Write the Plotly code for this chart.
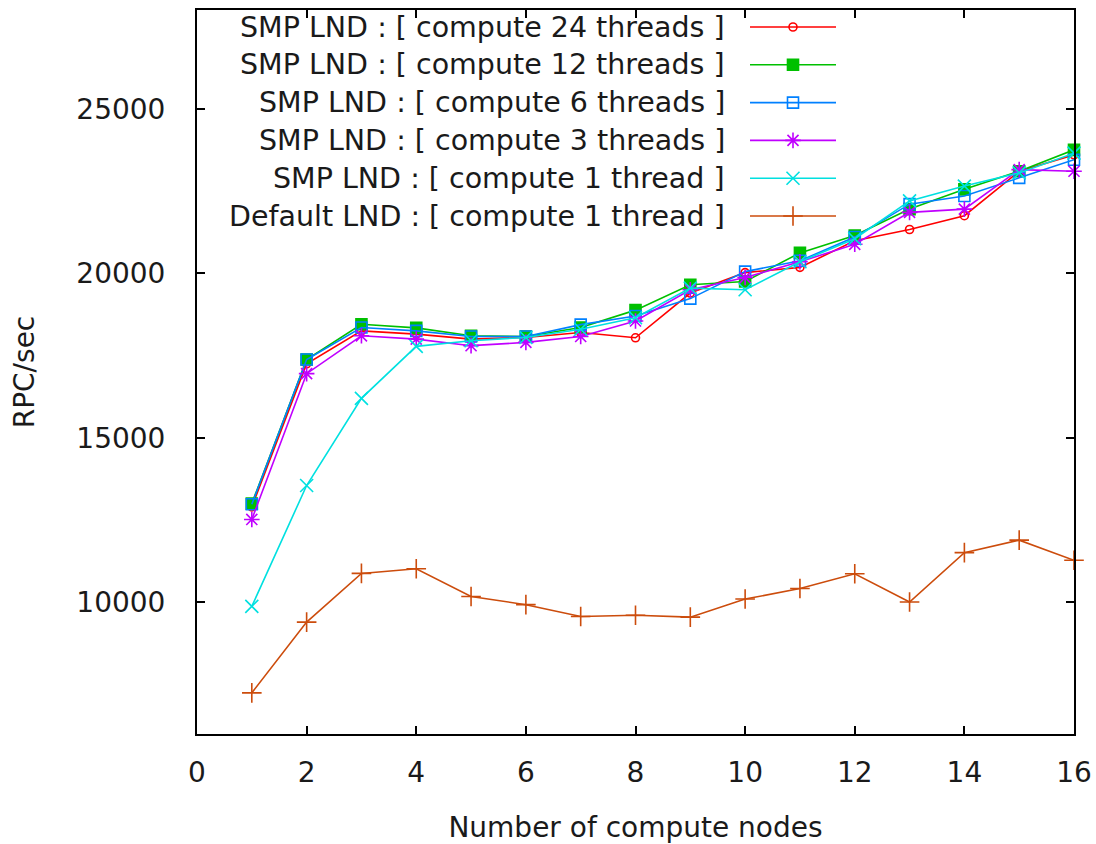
import plotly.graph_objects as go

# Throughput (RPC/sec) versus number of compute nodes
nodes = list(range(1, 17))

smp_24 = [12900, 17250, 18250, 18150, 18000, 18050, 18200, 18040,
          19400, 20020, 20180, 20990, 21330, 21750, 23100, 23600]
smp_12 = [13000, 17380, 18450, 18340, 18100, 18080, 18350, 18880,
          19650, 19750, 20620, 21150, 21950, 22550, 23100, 23750]
smp_6 = [12980, 17380, 18350, 18250, 18080, 18080, 18440, 18700,
         19230, 20050, 20380, 21100, 22100, 22350, 22900, 23450]
smp_3 = [12520, 16950, 18100, 18000, 17800, 17900, 18080, 18550,
         19500, 19870, 20350, 20880, 21850, 21950, 23150, 23100]
smp_1 = [9880, 13550, 16200, 17780, 17950, 18050, 18300, 18650,
         19550, 19500, 20350, 21050, 22200, 22650, 23050, 23650]
default_1 = [7250, 9400, 10880, 11020, 10180, 9930, 9570, 9610,
             9550, 10100, 10420, 10870, 10010, 11510, 11890, 11280]

labels = [
    "SMP LND : [ compute 24 threads ]",
    "SMP LND : [ compute 12 threads ]",
    "SMP LND : [ compute 6 threads ]",
    "SMP LND : [ compute 3 threads ]",
    "SMP LND : [ compute 1 thread ]",
    "Default LND : [ compute 1 thread ]",
]
series = [smp_24, smp_12, smp_6, smp_3, smp_1, default_1]

x_ticks = list(range(0, 17, 2))
y_ticks = [10000, 15000, 20000, 25000]
y_tick_text = [str(v) for v in y_ticks]

# gnuplot-like styles
colors = ["#ff0000", "#00c000", "#0080ff", "#c000ff", "#00e0e0", "#cc4c0c"]
symbols = ["circle-open", "square", "square-open", "asterisk-open",
           "x-thin-open", "cross-thin-open"]
sizes = [8, 11, 11, 13, 13, 14]

FONT = "DejaVu Sans"
TEXT_COLOR = "#1a1a1a"
W, H = 1096, 844
L, R, T, B = 197, 22, 10, 110
plot_w = W - L - R
plot_h = H - T - B

fig = go.Figure()

for name, ys, c, s, sz in zip(labels, series, colors, symbols, sizes):
    fig.add_trace(go.Scatter(
        x=nodes, y=ys, mode="lines+markers", name=name,
        line=dict(color=c, width=1.6),
        marker=dict(symbol=s, size=sz, color=c,
                    line=dict(color=c, width=1.6)),
        showlegend=False, cliponaxis=False,
    ))

# Key: right-aligned text followed by a line sample with its marker
text_right_px = 727
sample_left_px, sample_right_px = 750, 836
row_top_px, row_step_px = 27, 37.8


def px_to_paper_x(px):
    return (px - L) / plot_w


def px_to_paper_y(py):
    return (H - B - py) / plot_h


annotations = []
shapes = []
for i, (name, c, s, sz) in enumerate(zip(labels, colors, symbols, sizes)):
    py = px_to_paper_y(row_top_px + i * row_step_px)
    annotations.append(dict(
        text=name, xref="paper", yref="paper",
        x=px_to_paper_x(text_right_px), y=py,
        xanchor="right", yanchor="middle", showarrow=False,
        font=dict(family=FONT, size=28.5, color=TEXT_COLOR),
    ))
    shapes.append(dict(
        type="line", xref="paper", yref="paper",
        x0=px_to_paper_x(sample_left_px), x1=px_to_paper_x(sample_right_px),
        y0=py, y1=py, line=dict(color=c, width=1.6),
    ))
    fig.add_trace(go.Scatter(
        x=[px_to_paper_x((sample_left_px + sample_right_px) / 2)], y=[py],
        xaxis="x2", yaxis="y2", mode="markers",
        marker=dict(symbol=s, size=sz, color=c, line=dict(color=c, width=1.6)),
        showlegend=False, hoverinfo="skip",
    ))

axis_common = dict(
    showline=True, linecolor="#000000", linewidth=2, mirror="allticks",
    ticks="inside", ticklen=8, tickwidth=1.5, tickcolor="#000000",
    showgrid=False, zeroline=False, automargin=False,
    tickfont=dict(family=FONT, size=28, color=TEXT_COLOR),
)

fig.update_layout(
    width=W, height=H,
    margin=dict(l=L, r=R, t=T, b=B),
    paper_bgcolor="white", plot_bgcolor="white",
    xaxis=dict(range=[0, 16], tickvals=x_ticks, ticklabelstandoff=12,
               title=dict(text="Number of compute nodes", standoff=30,
                          font=dict(family=FONT, size=28, color=TEXT_COLOR)),
               **axis_common),
    yaxis=dict(range=[6000, 28000], tickvals=y_ticks, ticktext=y_tick_text,
               ticklabelstandoff=24,
               title=dict(text="RPC/sec", standoff=34,
                          font=dict(family=FONT, size=28, color=TEXT_COLOR)),
               **axis_common),
    xaxis2=dict(range=[0, 1], overlaying="x", visible=False, anchor="y2"),
    yaxis2=dict(range=[0, 1], overlaying="y", visible=False, anchor="x2"),
    annotations=annotations,
    shapes=shapes,
    showlegend=False,
)

fig.write_html("out.html")
